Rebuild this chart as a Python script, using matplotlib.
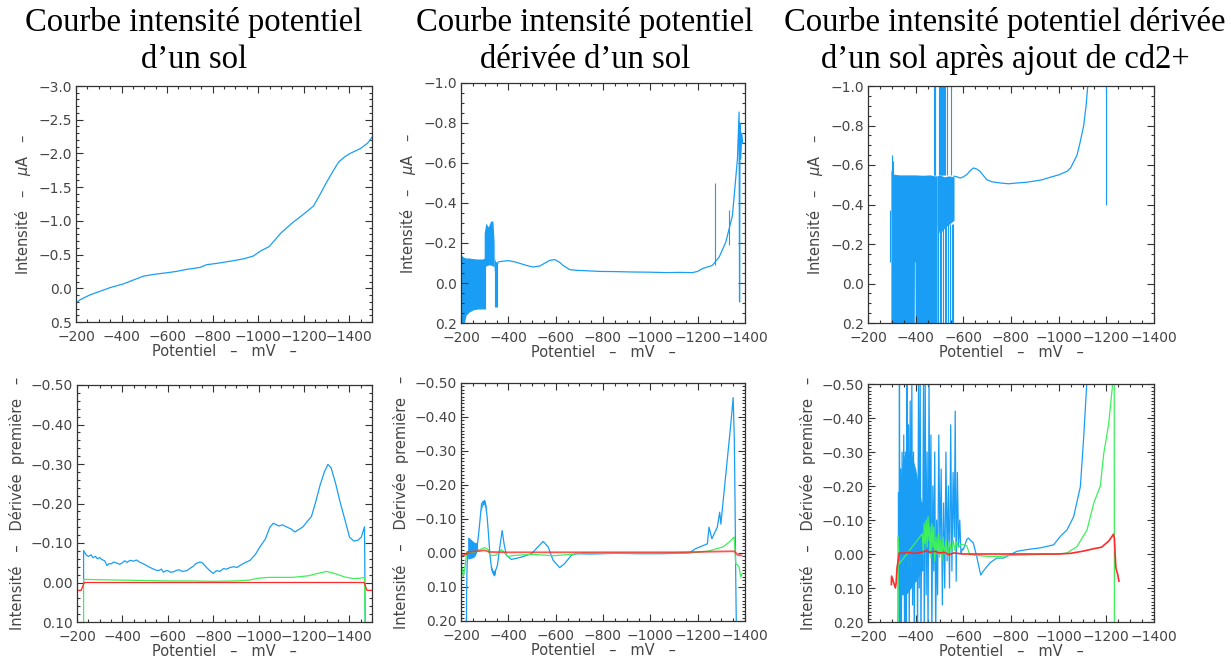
import numpy as np
import matplotlib
matplotlib.use("Agg")
import matplotlib.pyplot as plt
from matplotlib.ticker import MultipleLocator, FuncFormatter

BLUE = "#1a9ef5"
GREEN = "#3ef05a"
RED = "#ff2a2a"
TXT = "#454545"

# ---- panel 1 : courbe intensite potentiel
P1_V = [-200, -202, -218, -260, -305, -350, -408, -450, -496, -550, -599, -640, -686, -745,
        -774, -820, -892, -940, -980, -1009, -1049, -1100, -1150, -1200, -1243, -1270, -1300,
        -1331, -1353, -1380, -1404, -1448, -1480, -1500]
P1_I = [0.12, 0.21, 0.17, 0.1, 0.045, -0.01, -0.065, -0.12, -0.18, -0.21, -0.23, -0.25, -0.28,
        -0.31, -0.35, -0.37, -0.41, -0.44, -0.48, -0.55, -0.62, -0.82, -0.97, -1.1, -1.22,
        -1.38, -1.57, -1.75, -1.87, -1.95, -2.0, -2.07, -2.15, -2.24]

# ---- panel 2 : courbe derivee d'un sol
P2_V = [-357, -370, -399, -430, -476, -505, -533, -555, -575, -596, -615, -631, -659, -690,
        -715, -785, -850, -926, -1000, -1066, -1120, -1178, -1200, -1220, -1262, -1291, -1319,
        -1347, -1368, -1375, -1377, -1379, -1382, -1386, -1390]
P2_I = [-0.105, -0.108, -0.112, -0.105, -0.088, -0.08, -0.085, -0.1, -0.113, -0.117, -0.105,
        -0.088, -0.067, -0.063, -0.062, -0.058, -0.057, -0.055, -0.054, -0.052, -0.053, -0.052,
        -0.058, -0.072, -0.088, -0.13, -0.205, -0.338, -0.62, -0.855, 0.095, -0.8, -0.62,
        -0.75, -0.7]
P2_BANDS = [
    ([-200, -210, -222, -235, -250, -270, -290, -300],
     [-0.14, -0.13, -0.125, -0.125, -0.122, -0.12, -0.12, -0.125],
     [0.22, 0.22, 0.16, 0.145, 0.135, 0.13, 0.13, 0.13]),
    ([-298, -305, -315, -325, -335, -340],
     [-0.25, -0.3, -0.28, -0.31, -0.31, -0.2],
     [-0.08, -0.085, -0.09, -0.09, -0.085, -0.08]),
    ([-340, -345, -350, -356],
     [-0.13, -0.11, -0.105, -0.105],
     [-0.06, -0.07, -0.08, -0.1]),
]
P2_SPIKE_V = [-300, -343, -348, -353, -1274, -1333]
P2_SPIKE_LO = [-0.1, -0.1, -0.1, -0.1, -0.09, -0.19]
P2_SPIKE_HI = [0.13, 0.12, 0.12, 0.12, -0.5, -0.363]

# ---- panel 3 : derivee apres ajout de cd2+
P3_V = [-561, -575, -586, -600, -614, -628, -642, -656, -670, -685, -698, -720, -754, -790,
        -825, -860, -895, -930, -965, -1000, -1035, -1050, -1077, -1091, -1105, -1115, -1122,
        -1126]
P3_I = [-0.543, -0.54, -0.534, -0.54, -0.551, -0.57, -0.585, -0.58, -0.568, -0.545, -0.526,
        -0.515, -0.509, -0.505, -0.509, -0.512, -0.518, -0.525, -0.538, -0.55, -0.568, -0.585,
        -0.65, -0.72, -0.8, -0.9, -1.0, -1.05]
P3_BANDS = [
    ([-296, -300, -330, -360, -394, -395, -397, -398, -430, -460, -480, -490],
     [-0.58, -0.555, -0.55, -0.55, -0.55, -0.55, -0.55, -0.55, -0.548, -0.55, -0.545, -0.545],
     [0.25, 0.25, 0.25, 0.25, 0.25, -0.11, -0.11, 0.25, 0.25, 0.25, 0.25, 0.25]),
    ([-490, -500, -520, -540, -561],
     [-0.545, -0.55, -0.54, -0.545, -0.54],
     [-0.3, -0.25, -0.28, -0.3, -0.32]),
]
P3_SPIKE_V = [-291, -300, -303, -478, -480, -483, -497, -500, -505, -509, -512, -516, -519,
              -525, -530, -548, -470, -492, -495, -503, -508, -514, -522, -527, -535, -545,
              -552, -558, -1200]
P3_SPIKE_LO = [-0.37, -0.55, -0.55, -0.55, -0.55, -0.55, -0.55, -0.55, -0.55, -0.55, -0.55,
               -0.55, -0.55, -0.55, -0.55, -0.55, -0.3, -0.3, -0.3, -0.3, -0.3, -0.3, -0.3,
               -0.3, -0.3, -0.3, -0.3, -0.3, -1.05]
P3_SPIKE_HI = [-0.11, -0.65, -0.62, -1.05, -1.05, -1.05, -1.05, -1.05, -1.05, -1.05, -1.05,
               -1.05, -1.05, -1.05, -1.05, -1.05, 0.25, 0.25, 0.25, 0.25, 0.25, 0.25, 0.25,
               0.25, 0.25, 0.25, 0.25, 0.25, -0.4]

# ---- panel 4 : derivee premiere (sol)
P4_BLUE_V = [-229, -229, -240, -250, -262, -270, -282, -290, -300, -310, -322, -332, -342, -350,
             -362, -376, -388, -400, -410, -420, -434, -450, -462, -478, -490, -500, -515, -537,
             -550, -560, -572, -581, -592, -600, -612, -625, -640, -650, -665, -684, -698, -710,
             -725, -742, -752, -760, -771, -785, -800, -815, -830, -845, -859, -875, -890, -905,
             -918, -930, -940, -962, -985, -1006, -1030, -1050, -1065, -1090, -1105, -1123,
             -1145, -1160, -1180, -1196, -1215, -1233, -1250, -1270, -1290, -1306, -1320, -1340,
             -1357, -1380, -1401, -1420, -1438, -1453, -1467, -1470]
P4_BLUE_I = [0.0, -0.081, -0.07, -0.066, -0.07, -0.063, -0.066, -0.06, -0.063, -0.058, -0.055,
             -0.043, -0.048, -0.047, -0.052, -0.049, -0.046, -0.05, -0.055, -0.051, -0.056,
             -0.054, -0.057, -0.051, -0.048, -0.045, -0.04, -0.034, -0.031, -0.03, -0.034,
             -0.026, -0.03, -0.03, -0.026, -0.027, -0.031, -0.032, -0.028, -0.03, -0.036, -0.04,
             -0.048, -0.052, -0.05, -0.045, -0.038, -0.03, -0.023, -0.03, -0.028, -0.035,
             -0.034, -0.038, -0.04, -0.038, -0.043, -0.047, -0.05, -0.056, -0.07, -0.09, -0.11,
             -0.14, -0.15, -0.143, -0.146, -0.141, -0.135, -0.128, -0.135, -0.141, -0.155,
             -0.167, -0.2, -0.244, -0.28, -0.299, -0.29, -0.25, -0.209, -0.16, -0.115, -0.105,
             -0.107, -0.115, -0.141, 0.1]
P4_GREEN_V = [-229, -229, -300, -400, -500, -600, -700, -800, -900, -960, -1000, -1050, -1150,
              -1220, -1260, -1300, -1340, -1380, -1420, -1450, -1467, -1470]
P4_GREEN_I = [0.12, -0.008, -0.007, -0.006, -0.005, -0.004, -0.004, -0.003, -0.004, -0.006,
              -0.011, -0.013, -0.013, -0.017, -0.023, -0.028, -0.022, -0.014, -0.01, -0.011,
              -0.013, 0.12]
P4_RED_V = [-200, -218, -232, -1465, -1478, -1500]
P4_RED_I = [0.02, 0.02, 0.0, 0.0, 0.02, 0.02]

# ---- panel 5 : derivee premiere (sol, derivee)
P5_BLUE_V = [-222, -224, -226, -228, -270, -276, -282, -287, -294, -304, -310, -315, -322, -329,
             -335, -340, -347, -354, -364, -374, -382, -392, -413, -456, -498, -525, -547, -568,
             -589, -617, -638, -666, -687, -750, -850, -950, -1050, -1164, -1192, -1241, -1248,
             -1260, -1283, -1293, -1298, -1312, -1326, -1340, -1350, -1355, -1358, -1361, -1364]
P5_BLUE_I = [0.25, 0.1, 0.03, 0.0, -0.03, -0.066, -0.11, -0.145, -0.152, -0.14, -0.11, -0.066,
             0.002, 0.046, 0.058, 0.06, 0.05, 0.036, -0.018, -0.066, -0.027, 0.007, 0.019, 0.012,
             0.002, -0.018, -0.034, -0.018, 0.021, 0.043, 0.031, 0.007, 0.002, 0.003, 0.001,
             0.002, 0.002, 0.0, -0.013, -0.027, -0.076, -0.042, -0.076, -0.12, -0.085, -0.183,
             -0.281, -0.379, -0.457, -0.33, -0.145, 0.08, 0.25]
P5_BANDS = [
    ([-228, -235, -245, -255, -262, -270],
     [-0.047, -0.045, -0.038, -0.032, -0.03, -0.03],
     [0.017, 0.017, 0.015, 0.012, 0.005, -0.01]),
    ([-284, -290, -296, -302, -307],
     [-0.13, -0.152, -0.158, -0.155, -0.135],
     [-0.12, -0.138, -0.144, -0.138, -0.12]),
    ([-327, -334, -340, -346],
     [0.035, 0.05, 0.052, 0.045],
     [0.05, 0.064, 0.068, 0.06]),
]
P5_GREEN_V = [-200, -205, -210, -215, -217, -224, -259, -280, -301, -315, -322, -343, -360, -371,
              -385, -399, -427, -500, -589, -666, -720, -800, -1160, -1200, -1248, -1307, -1333,
              -1354, -1361, -1368, -1375, -1382, -1388]
P5_GREEN_I = [0.06, 0.045, 0.07, 0.05, 0.041, -0.003, -0.003, -0.01, -0.016, -0.01, 0.007, 0.007,
              0.0, -0.01, 0.0, 0.01, 0.007, 0.004, 0.008, 0.004, 0.0, 0.001, 0.0, -0.002, -0.006,
              -0.018, -0.032, -0.047, 0.031, 0.035, 0.041, 0.07, 0.06]
P5_RED_V = [-200, -215, -225, -228, -280, -300, -320, -400, -700, -1100, -1340, -1355, -1362,
            -1370, -1385]
P5_RED_I = [0.007, 0.006, 0.002, -0.003, -0.006, -0.008, -0.003, -0.002, -0.002, -0.002, -0.005,
            -0.005, 0.0, 0.006, 0.007]

# ---- panel 6 : derivee premiere apres ajout de cd2+
P6_BLUE_V = [-326, -328, -330, -332, -334, -337, -340, -343, -346, -350, -353, -357, -360, -363,
             -366, -370, -373, -377, -380, -384, -387, -391, -394, -398, -401, -405, -408, -412,
             -415, -419, -422, -426, -429, -433, -436, -440, -444, -448, -452, -456, -460, -464,
             -468, -472, -476, -480, -484, -488, -492, -497, -502, -507, -512, -517, -522, -527,
             -532, -537, -542, -547, -552, -557, -562, -566, -570, -575, -580, -585, -590, -596,
             -600, -614, -621, -642, -656, -673, -684, -712, -740, -768, -797, -825, -867, -923,
             -979, -1007, -1035, -1063, -1091, -1105, -1117, -1120]
P6_BLUE_I = [0.25, -0.18, 0.1, -0.52, 0.2, -0.25, 0.25, -0.3, 0.12, -0.35, 0.2, -0.3, 0.25,
             -0.52, 0.05, -0.38, 0.25, -0.45, 0.1, -0.52, 0.15, -0.3, 0.25, -0.25, 0.08, -0.2,
             0.25, -0.52, 0.1, -0.52, 0.25, -0.15, 0.05, -0.52, 0.25, -0.52, 0.12, -0.3, 0.25,
             -0.52, 0.0, -0.35, 0.25, -0.2, 0.05, -0.3, 0.25, -0.1, 0.12, -0.35, 0.0, -0.25, 0.15,
             -0.15, 0.1, -0.3, 0.02, -0.2, 0.1, -0.38, 0.05, -0.24, -0.05, -0.42, 0.08, -0.24,
             -0.02, -0.1, 0.0, -0.015, -0.013, -0.042, -0.047, -0.032, 0.007, 0.062, 0.05, 0.026,
             0.012, 0.012, 0.002, -0.008, -0.013, -0.018, -0.027, -0.052, -0.071, -0.11, -0.198,
             -0.344, -0.49, -0.55]
P6_BLUE_BAND = ([-335, -345, -360, -380, -400, -425],
                [-0.2, -0.28, -0.3, -0.3, -0.25, -0.15],
                [0.1, 0.12, 0.12, 0.1, 0.08, 0.05])
P6_GREEN_V = [-326, -327, -330, -428, -432, -436, -440, -444, -448, -452, -456, -460, -464, -468,
              -472, -476, -480, -485, -490, -495, -500, -505, -510, -515, -520, -528, -535, -542,
              -550, -558, -565, -572, -580, -590, -600, -614, -627, -700, -754, -800, -895, -1000,
              -1035, -1077, -1119, -1147, -1168, -1175, -1189, -1210, -1225, -1230, -1233, -1234]
P6_GREEN_I = [0.25, -0.05, 0.03, -0.06, 0.0, -0.09, -0.03, -0.1, -0.02, -0.11, -0.04, -0.08,
              0.01, -0.09, -0.02, -0.08, 0.02, -0.05, 0.0, -0.06, 0.01, -0.04, 0.02, -0.05, 0.0,
              -0.04, 0.01, -0.035, -0.005, -0.04, -0.01, -0.035, -0.02, -0.028, -0.027, -0.025,
              0.002, 0.007, 0.007, 0.004, 0.002, 0.0, -0.003, -0.022, -0.071, -0.149, -0.188,
              -0.2, -0.295, -0.383, -0.49, -0.55, -0.55, 0.25]
P6_GREEN_BAND = ([-327, -340, -360, -380, -400, -428],
                 [-0.05, -0.052, -0.045, -0.05, -0.048, -0.06],
                 [0.045, 0.04, 0.035, 0.035, 0.025, 0.02])
P6_RED_V = [-298, -299, -315, -318, -322, -331, -350, -370, -390, -410, -430, -445, -460, -480,
            -500, -520, -540, -560, -600, -700, -1000, -1050, -1100, -1150, -1180, -1210, -1230,
            -1234, -1237, -1240, -1245, -1248, -1250, -1253]
P6_RED_I = [0.09, 0.065, 0.1, 0.085, 0.04, -0.003, -0.002, -0.005, -0.002, -0.003, -0.006, -0.01,
            -0.005, -0.008, -0.003, -0.005, 0.002, -0.003, 0.0, 0.0, 0.0, -0.002, -0.008, -0.016,
            -0.02, -0.038, -0.058, -0.045, 0.0, 0.04, 0.055, 0.06, 0.07, 0.08]

TITLES = [
    ("Courbe intensité potentiel", "d\u2019un sol"),
    ("Courbe intensité potentiel", "dérivée d\u2019un sol"),
    ("Courbe intensité potentiel dérivée", "d\u2019un sol après ajout de cd2+"),
]
YLAB_TOP = "Intensité   \u2013   $\\mu$A   \u2013"
YLAB_BOT = "Intensité   \u2013   Dérivée  première   \u2013"
XLAB = "Potentiel   \u2013   mV   \u2013"


def num_fmt(dec):
    def f(v, pos):
        s = f"{v:.{dec}f}"
        if float(s) == 0:
            s = f"{0:.{dec}f}"
        return s.replace("-", "\u2212")
    return FuncFormatter(f)


def style(ax, xlim, ylim, ymaj, ymin, ydec, ylabel):
    ax.set_xlim(*xlim)
    ax.set_ylim(*ylim)
    ax.xaxis.set_major_locator(MultipleLocator(200))
    ax.xaxis.set_minor_locator(MultipleLocator(50))
    ax.yaxis.set_major_locator(MultipleLocator(ymaj))
    ax.yaxis.set_minor_locator(MultipleLocator(ymin))
    ax.xaxis.set_major_formatter(num_fmt(0))
    ax.yaxis.set_major_formatter(num_fmt(ydec))
    ax.tick_params(which="both", direction="in", top=True, right=True,
                   color="#333333", labelcolor=TXT, labelsize=10, width=0.8)
    ax.tick_params(which="major", length=5)
    ax.tick_params(which="minor", length=2.5)
    ax.tick_params(axis="x", which="major", pad=6)
    ax.tick_params(axis="y", which="major", pad=3)
    for sp in ax.spines.values():
        sp.set_color("#333333")
        sp.set_linewidth(0.9)
    ax.set_xlabel(XLAB, color=TXT, fontsize=10.5, labelpad=0)
    ax.set_ylabel(ylabel, color=TXT, fontsize=10.5, labelpad=4)


def bands(ax, blist, color):
    for v, hi, lo in blist:
        ax.fill_between(v, lo, hi, color=color, lw=0)


fig = plt.figure(figsize=(12.31, 6.59), dpi=100)
W, H = 1231, 659


def box(l, r, t, b):
    return [l / W, 1 - b / H, (r - l) / W, (b - t) / H]


ax1 = fig.add_axes(box(76, 372, 86, 322))
ax2 = fig.add_axes(box(461, 745, 83, 323))
ax3 = fig.add_axes(box(868, 1154, 86, 323))
ax4 = fig.add_axes(box(77, 372, 385, 622))
ax5 = fig.add_axes(box(461, 745, 383, 621))
ax6 = fig.add_axes(box(868, 1154, 384, 622))

lw = 0.9
ax1.plot(P1_V, P1_I, color=BLUE, lw=lw)
style(ax1, (-200, -1500), (0.5, -3.0), 0.5, 0.1, 1, YLAB_TOP)

bands(ax2, P2_BANDS, BLUE)
ax2.vlines(P2_SPIKE_V, P2_SPIKE_LO, P2_SPIKE_HI, color=BLUE, lw=0.8)
ax2.plot(P2_V, P2_I, color=BLUE, lw=lw)
style(ax2, (-200, -1400), (0.2, -1.0), 0.2, 0.05, 1, YLAB_TOP)

bands(ax3, P3_BANDS, BLUE)
ax3.vlines(P3_SPIKE_V, P3_SPIKE_LO, P3_SPIKE_HI, color=BLUE, lw=0.8)
ax3.plot(P3_V, P3_I, color=BLUE, lw=lw)
style(ax3, (-200, -1400), (0.2, -1.0), 0.2, 0.05, 1, YLAB_TOP)

ax4.plot(P4_BLUE_V, P4_BLUE_I, color=BLUE, lw=lw)
ax4.plot(P4_GREEN_V, P4_GREEN_I, color=GREEN, lw=lw)
ax4.plot(P4_RED_V, P4_RED_I, color=RED, lw=lw)
style(ax4, (-200, -1500), (0.1, -0.5), 0.1, 0.02, 2, YLAB_BOT)

bands(ax5, P5_BANDS, BLUE)
ax5.plot(P5_BLUE_V, P5_BLUE_I, color=BLUE, lw=lw)
ax5.plot(P5_GREEN_V, P5_GREEN_I, color=GREEN, lw=lw)
ax5.plot(P5_RED_V, P5_RED_I, color=RED, lw=1.3, alpha=0.8)
style(ax5, (-200, -1400), (0.2, -0.5), 0.1, 0.01, 2, YLAB_BOT)

bands(ax6, [P6_BLUE_BAND], BLUE)
ax6.plot(P6_BLUE_V, P6_BLUE_I, color=BLUE, lw=lw)
bands(ax6, [P6_GREEN_BAND], GREEN)
ax6.plot(P6_GREEN_V, P6_GREEN_I, color=GREEN, lw=lw)
ax6.plot(P6_RED_V, P6_RED_I, color=RED, lw=1.2)
style(ax6, (-200, -1400), (0.2, -0.5), 0.1, 0.01, 2, YLAB_BOT)

for xc, (l1, l2) in zip([194, 585, 1005], TITLES):
    fig.text(xc / W, 1 - 31 / H, l1, ha="center", va="baseline",
             fontfamily="Liberation Serif", fontsize=23.5, color="black")
    fig.text(xc / W, 1 - 68 / H, l2, ha="center", va="baseline",
             fontfamily="Liberation Serif", fontsize=23.5, color="black")

fig.savefig("out.png", dpi=100)
